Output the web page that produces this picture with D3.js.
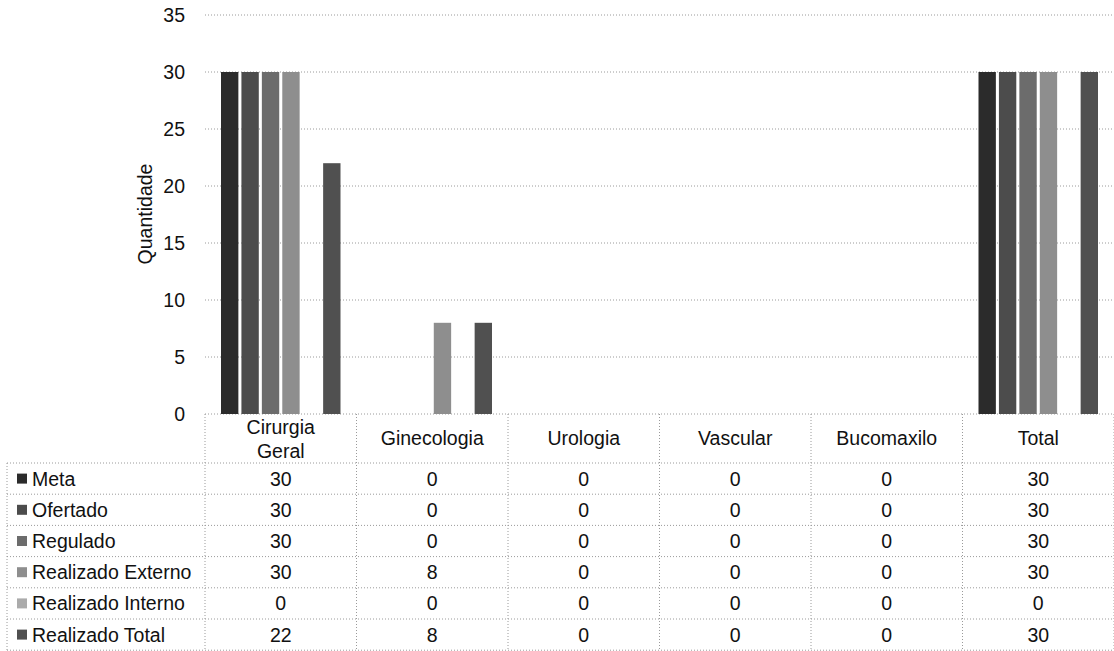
<!DOCTYPE html>
<html><head><meta charset="utf-8">
<script src="https://cdn.jsdelivr.net/npm/d3@7"></script>
<style>body{margin:0;background:#fff}svg{display:block;font-family:"Liberation Sans",Arial,sans-serif}</style>
</head><body><svg id="c" width="1114" height="651"></svg>
<script>
const categories = ["Cirurgia Geral","Ginecologia","Urologia","Vascular","Bucomaxilo","Total"];
const seriesNames = ["Meta","Ofertado","Regulado","Realizado Externo","Realizado Interno","Realizado Total"];
const meta = [30,0,0,0,0,30];
const ofertado = [30,0,0,0,0,30];
const regulado = [30,0,0,0,0,30];
const realizadoExterno = [30,8,0,0,0,30];
const realizadoInterno = [0,0,0,0,0,0];
const realizadoTotal = [22,8,0,0,0,30];
const yTicks = [0,5,10,15,20,25,30,35];
const colors = ["#2b2b2b","#4c4c4c","#6c6c6c","#8e8e8e","#ababab","#505050"];
const values = [meta,ofertado,regulado,realizadoExterno,realizadoInterno,realizadoTotal];

const svg = d3.select("#c");
const fs = 19.5;
const plotL = 205, plotR = 1114, y0 = 414, yTop = 15;
const x = d3.scaleBand().domain(categories).range([plotL, plotR]);
const xs = d3.scaleBand().domain(seriesNames).range([16, x.bandwidth()-16]).paddingInner(0.15);
const y = d3.scaleLinear().domain([0,35]).range([y0, yTop]);

// gridlines
svg.append("g").selectAll("line").data(yTicks).join("line")
  .attr("x1", plotL).attr("x2", plotR).attr("y1", d=>y(d)).attr("y2", d=>y(d))
  .attr("stroke","#9a9a9a").attr("stroke-width",1).attr("stroke-dasharray","1,2");

// y axis labels
const ya = svg.append("g").attr("transform",`translate(185,0)`)
  .call(d3.axisLeft(y).tickValues(yTicks).tickSize(0).tickPadding(0));
ya.select(".domain").remove();
ya.selectAll("text").attr("font-size",fs).attr("font-family","Liberation Sans, Arial").attr("fill","#111");

svg.append("text").attr("transform",`translate(152,214) rotate(-90)`)
  .attr("text-anchor","middle").attr("font-size",fs).attr("fill","#111").text("Quantidade");

// bars
const g = svg.append("g");
seriesNames.forEach((s,i)=>{
  g.selectAll(null).data(categories).join("rect")
    .attr("x", c=>x(c)+xs(s)).attr("width", xs.bandwidth())
    .attr("y", (c,j)=>y(values[i][j])).attr("height",(c,j)=>y0-y(values[i][j]))
    .attr("fill", colors[i]);
});

// table
const headerBottom = 463, rowH = 31.2, tableL = 7;
const lineAttrs = sel => sel.attr("stroke","#9a9a9a").attr("stroke-width",1).attr("stroke-dasharray","1,2");
const tg = svg.append("g");
const colEdges = categories.map(c=>x(c)).concat([plotR]);
tg.selectAll(".v").data(colEdges).join("line").attr("x1",d=>d).attr("x2",d=>d)
  .attr("y1",y0).attr("y2",651).call(lineAttrs);
tg.append("line").attr("x1",tableL).attr("x2",tableL).attr("y1",headerBottom).attr("y2",651).call(lineAttrs);
const rowLines = d3.range(seriesNames.length+1).map(i=>headerBottom+i*rowH);
tg.selectAll(".h").data(rowLines).join("line").attr("x1",tableL).attr("x2",plotR)
  .attr("y1",d=>d).attr("y2",d=>d).call(lineAttrs);

// header texts
categories.forEach(c=>{
  const cx = x(c)+x.bandwidth()/2;
  const words = c==="Cirurgia Geral" ? ["Cirurgia","Geral"] : [c];
  const t = tg.append("text").attr("text-anchor","middle").attr("font-size",fs).attr("fill","#111");
  if(words.length===2){
    t.append("tspan").attr("x",cx).attr("y",434).text(words[0]);
    t.append("tspan").attr("x",cx).attr("y",458).text(words[1]);
  } else {
    t.append("tspan").attr("x",cx).attr("y",445).text(words[0]);
  }
});

// rows
seriesNames.forEach((s,i)=>{
  const ry = headerBottom + i*rowH;
  tg.append("rect").attr("x",17).attr("y",ry+rowH/2-5).attr("width",10).attr("height",10).attr("fill",colors[i]);
  tg.append("text").attr("x",32).attr("y",ry+rowH/2+7).attr("font-size",fs).attr("fill","#111").text(s);
  categories.forEach((c,j)=>{
    tg.append("text").attr("x",x(c)+x.bandwidth()/2).attr("y",ry+rowH/2+7)
      .attr("text-anchor","middle").attr("font-size",fs).attr("fill","#111").text(values[i][j]);
  });
});
</script></body></html>
